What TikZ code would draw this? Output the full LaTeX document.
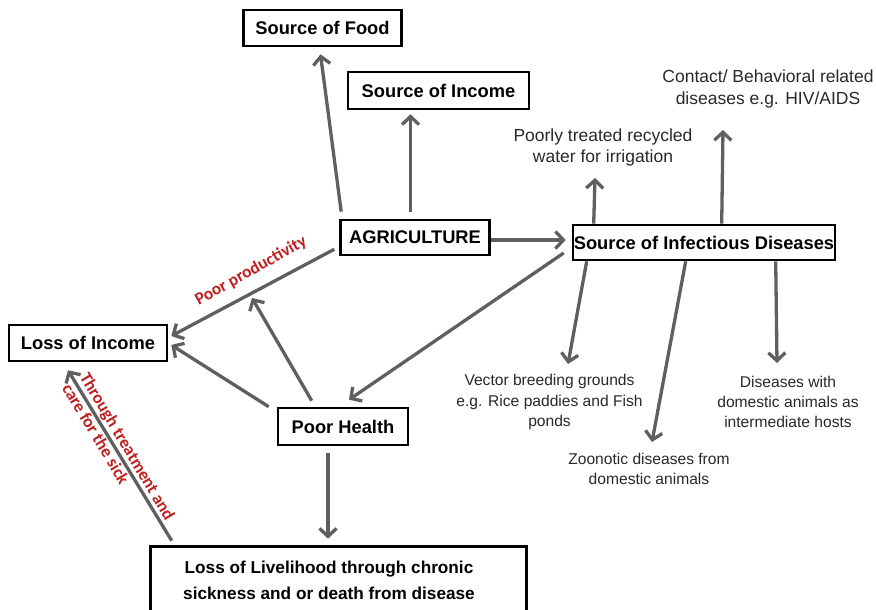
\documentclass[tikz,border=0pt]{standalone}
\usepackage{fontspec}
\setmainfont{Liberation Sans}
\newfontfamily\redfont{Carlito}
\usetikzlibrary{arrows.meta}
\definecolor{arrowgray}{RGB}{95,95,95}
\definecolor{labelred}{RGB}{192,32,32}
\definecolor{txtgray}{RGB}{40,40,40}
\begin{document}
\begin{tikzpicture}[x=1pt,y=-1pt,
  boxline/.style={draw=black, line width=2.6pt},
  box/.style={boxline, fill=white, inner sep=0pt, font=\fontsize{18.3}{26}\selectfont\bfseries, align=center, text=black},
  conn/.style={draw=arrowgray, line width=3.3pt, -{Straight Barb[length=8pt,width=17pt]}},
  note/.style={align=center, text=txtgray, inner sep=0pt},
  bignote/.style={note, font=\fontsize{17.5}{21.5}\selectfont},
  smallnote/.style={note, font=\fontsize{15.6}{20.3}\selectfont},
  redlab/.style={text=labelred, font=\redfont\bfseries\fontsize{17.3}{20.6}\selectfont, inner sep=0pt}]
\useasboundingbox (0,0) rectangle (876,610);
\clip (0,0) rectangle (876,610);

% boxes
\node[box, minimum width=158pt, minimum height=36pt] (food) at (322.5,28) {Source of Food};
\node[box, minimum width=181pt, minimum height=37pt] (income) at (438.5,90.5) {Source of Income};
\node[box, minimum width=149pt, minimum height=35pt] (agri) at (415,237.5) {AGRICULTURE};
\node[box, minimum width=262pt, minimum height=35pt] (sid) at (704,242.5) {Source of Infectious Diseases};
\node[box, minimum width=158pt, minimum height=36pt] (loss) at (88,343) {Loss of Income};
\node[box, minimum width=130pt, minimum height=37pt] (poor) at (343,426.5) {Poor Health};
\node[box, draw=none, fill=none, minimum width=373pt, minimum height=64pt, font=\fontsize{17.2}{26}\selectfont\bfseries] (live) at (329,580)
  {Loss of Livelihood through chronic\\sickness and or death from disease};
\draw[boxline] ([shift={(9.5,4)}]live.south west) -- ([xshift=9.5pt]live.north west) -- ([xshift=9.5pt]live.north east) -- ([shift={(9.5,4)}]live.south east);

% texts
\node[bignote] (contact) at (768,89) {Contact/ Behavioral related\\diseases e.g. HIV/AIDS};
\node[bignote] (poorly) at (603,147.5) {Poorly treated recycled\\water for irrigation};
\node[smallnote] (vector) at (549.5,402) {Vector breeding grounds\\e.g. Rice paddies and Fish\\ponds};
\node[smallnote] (zoo) at (649,469) {Zoonotic diseases from\\domestic animals};
\node[smallnote] (dis) at (788,402) {Diseases with\\domestic animals as\\intermediate hosts};

\node[redlab, rotate=29] (pplab) at (251,271) {Poor productivity};
\node[redlab, rotate=-59, align=left, anchor=base west] (trlab) at (61.5,388) {Through treatment and\\care for the sick};

% free ends
\coordinate (pp) at (252,298);
\coordinate (poorlytip) at (595,178);
\coordinate (contacttip) at (723,130);
\coordinate (vectortip) at (568,364);
\coordinate (zootip) at (652,442);
\coordinate (distip) at (777,363);

% connectors
\draw[conn] ([shift={(2,-7)}]agri.north west) -- ([shift={(-2,7)}]food.south);
\draw[conn] ([shift={(-4.5,-7)}]agri.north) -- ([shift={(-28,4)}]income.south);
\draw[conn] ([shift={(0,2.5)}]agri.east) -- ([shift={(-6,-2.5)}]sid.west);
\draw[conn] ([shift={(-5,-7)}]agri.south west) -- ([shift={(3,-7)}]loss.east);
\draw[conn] ([shift={(-8,0)}]poor.north west) -- ([shift={(3,2)}]loss.east);
\draw[conn] ([shift={(35,-6)}]poor.north west) -- (pp);
\draw[conn] ([shift={(-8,10.5)}]sid.west) -- ([shift={(6,-7)}]poor.north);
\draw[conn] ([shift={(-15,7)}]poor.south) -- ([shift={(-1,-8)}]live.north);
\draw[conn] ([shift={(30.5,-6)}]live.north west) -- ([shift={(-20,8)}]loss.south);
\draw[conn] ([shift={(22,0)}]sid.north west) -- (poorlytip);
\draw[conn] ([shift={(150,0)}]sid.north west) -- (contacttip);
\draw[conn] ([shift={(15,0)}]sid.south west) -- (vectortip);
\draw[conn] ([shift={(114,0)}]sid.south west) -- (zootip);
\draw[conn] ([shift={(204,0)}]sid.south west) -- (distip);
\end{tikzpicture}
\end{document}
